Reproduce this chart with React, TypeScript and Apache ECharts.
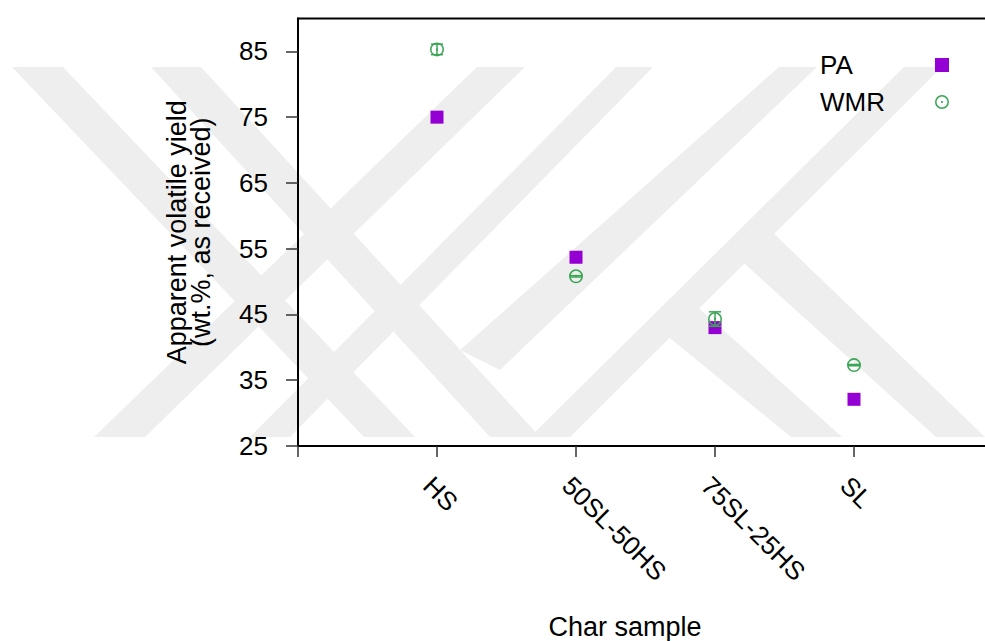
import React, { useEffect, useRef } from 'react';
import * as echarts from 'echarts';

const categories = ['HS', '50SL-50HS', '75SL-25HS', 'SL'];
const xPositions = [1, 2, 3, 4];
const paValues = [75.0, 53.7, 43.0, 32.1];
const wmrValues = [85.3, 50.8, 44.3, 37.3];
const wmrErrors = [0.8, 0.1, 1.1, 0.1];
const yTicks = [25, 35, 45, 55, 65, 75, 85];
const xTicks = [0, 1, 2, 3, 4, 5];

const PURPLE = '#9400d3';
const GREEN = '#3aa655';
const WM = '#eeeeee';
const FONT = 'Liberation Sans';

const ringDot =
  'path://M50,0 A50,50 0 1,1 50,100 A50,50 0 1,1 50,0 Z M50,11 A39,39 0 1,0 50,89 A39,39 0 1,0 50,11 Z M50,42 A8,8 0 1,1 50,58 A8,8 0 1,1 50,42 Z';

// background watermark bands (decorative, page pixels)
const watermark: number[][][] = [
  [[12, 67], [63, 67], [415, 437], [364, 437]],
  [[151, 67], [201, 67], [540, 437], [490, 437]],
  [[477, 67], [525, 67], [145, 437], [94, 437]],
  [[616, 67], [653, 67], [290, 437], [250, 437]],
  [[779, 67], [817, 67], [500, 370], [460, 350]],
  [[904, 67], [942, 67], [570, 437], [530, 437]],
  [[660, 330], [690, 300], [842, 437], [791, 437]],
  [[735, 255], [765, 225], [985, 437], [936, 437]],
];

export default function App() {
  const ref = useRef<HTMLDivElement>(null);
  useEffect(() => {
    document.body.style.margin = '0';
    const chart = echarts.init(ref.current!, null, { renderer: 'svg' });
    const option: any = {
      animation: false,
      textStyle: { fontFamily: FONT },
      graphic: watermark.map((pts) => ({
        type: 'polygon',
        z: -10,
        silent: true,
        shape: { points: pts },
        style: { fill: WM },
      })),
      grid: {
        left: 298,
        top: 18.5,
        right: -8,
        bottom: 195,
        show: true,
        borderColor: '#000',
        borderWidth: 2,
        backgroundColor: 'transparent',
        outerBoundsMode: 'none',
        containLabel: false,
      },
      legend: {
        left: 815,
        top: 47,
        orient: 'vertical',
        align: 'right',
        itemWidth: 14,
        itemHeight: 14,
        itemGap: 11,
        formatter: '{a|{name}}',
        textStyle: {
          fontSize: 26,
          fontFamily: FONT,
          color: '#000',
          rich: { a: { width: 110, fontSize: 26, fontFamily: FONT, color: '#000', lineHeight: 30, align: 'left' } },
        },
        data: [
          { name: 'PA', icon: 'rect' },
          { name: 'WMR', icon: ringDot },
        ],
      },
      xAxis: {
        type: 'value',
        min: 0,
        max: 5,
        interval: 1,
        name: 'Char sample',
        nameLocation: 'middle',
        nameGap: 167,
        nameTextStyle: { fontSize: 27, fontFamily: FONT, color: '#000', padding: [0, 41, 0, 0] },
        splitLine: { show: false },
        axisLine: { lineStyle: { color: '#000', width: 2 } },
        axisTick: { customValues: xTicks, length: 11, lineStyle: { color: '#333', width: 1.5 } },
        axisLabel: {
          customValues: xPositions,
          rotate: -45,
          align: 'left',
          verticalAlign: 'top',
          margin: 26,
          fontSize: 26,
          fontFamily: FONT,
          color: '#000',
          formatter: (v: number) => categories[xPositions.indexOf(v)] ?? '',
        },
      },
      yAxis: {
        type: 'value',
        min: 25,
        max: 90,
        interval: 10,
        name: 'Apparent volatile yield\n(wt.%, as received)',
        nameLocation: 'middle',
        nameRotate: 90,
        nameGap: 85,
        nameTextStyle: { fontSize: 27, fontFamily: FONT, color: '#000', lineHeight: 24 },
        splitLine: { show: false },
        axisLine: { lineStyle: { color: '#000', width: 2 } },
        axisTick: { customValues: yTicks, length: 12, lineStyle: { color: '#333', width: 1.5 } },
        axisLabel: {
          customValues: yTicks,
          margin: 30,
          fontSize: 26,
          fontFamily: FONT,
          color: '#000',
        },
      },
      series: [
        {
          name: 'PA',
          type: 'scatter',
          symbol: 'rect',
          symbolSize: 13,
          itemStyle: { color: PURPLE, opacity: 1 },
          z: 2,
          data: xPositions.map((x, i) => [x, paValues[i]]),
        },
        {
          name: 'WMR error',
          type: 'custom',
          z: 3,
          itemStyle: { color: GREEN },
          renderItem: (params: any, api: any) => {
            const x = api.value(0);
            const y = api.value(1);
            const e = api.value(2);
            const top = api.coord([x, y + e]);
            const bot = api.coord([x, y - e]);
            const hw = 6;
            const st = { stroke: GREEN, lineWidth: 1.5 };
            return {
              type: 'group',
              children: [
                { type: 'line', shape: { x1: top[0], y1: top[1], x2: bot[0], y2: bot[1] }, style: st },
                { type: 'line', shape: { x1: top[0] - hw, y1: top[1], x2: top[0] + hw, y2: top[1] }, style: st },
                { type: 'line', shape: { x1: bot[0] - hw, y1: bot[1], x2: bot[0] + hw, y2: bot[1] }, style: st },
              ],
            };
          },
          data: xPositions.map((x, i) => [x, wmrValues[i], wmrErrors[i]]),
        },
        {
          name: 'WMR',
          type: 'scatter',
          symbol: ringDot,
          symbolSize: 14,
          itemStyle: { color: GREEN, opacity: 1 },
          z: 4,
          data: xPositions.map((x, i) => [x, wmrValues[i]]),
        },
      ],
    };
    chart.setOption(option);
    return () => chart.dispose();
  }, []);
  return <div ref={ref} style={{ width: 985, height: 641 }} />;
}
